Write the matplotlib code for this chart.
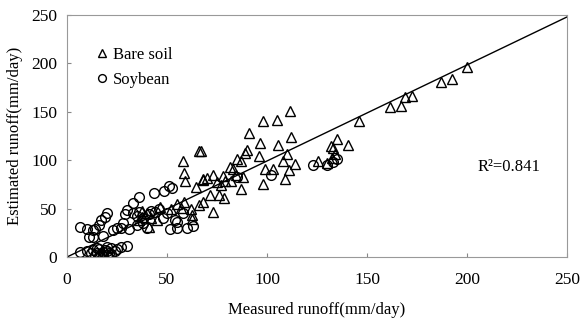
import matplotlib
matplotlib.use("Agg")
import matplotlib.pyplot as plt

plt.rcParams['font.family'] = ['Liberation Serif', 'DejaVu Serif']

# Bare soil (measured, estimated)
bare_x = [161.5, 166.8, 169, 172.7, 186.8, 192.7, 199.8, 146,
          111.5, 104.8, 97.8, 90.8, 96.5, 105.7, 111.8, 90, 89, 95.8, 110, 108, 114,
          99, 103, 111, 109, 98, 87, 87, 85, 81.5, 83, 88, 84.5, 67, 125.7, 132, 135,
          140.5, 133, 134, 132.7, 130,
          71.5, 76, 78.5, 68, 66, 73, 77, 79, 68, 73, 58, 66, 58.5, 59, 64.5, 58.5, 55,
          57, 62.5, 62.5, 45, 41, 37.5, 37.5, 46.5, 68, 70, 78, 75, 82, 62, 52, 40, 42, 36]
bare_y = [155, 156, 165.6, 166.7, 181, 184, 196, 141,
          151, 142, 141, 128, 118, 116, 124, 110.5, 107, 104, 106, 99.5, 96,
          90.5, 90.5, 90, 81, 75, 70, 99, 101, 92.6, 90.5, 83, 85, 110, 99.5, 115, 122,
          116, 113, 106, 102, 97,
          64, 64, 61, 57, 54, 47, 74, 79, 81, 85, 99, 109, 86.5, 79, 72.6, 57, 55,
          51, 43, 39, 38, 31, 48, 41, 52, 80, 82, 84, 77, 79, 50, 50, 45, 40, 38]

# Soybean (measured, estimated)
soy_x = [123, 130, 135, 133, 102, 85, 43.5, 48.5, 52.5, 51, 36, 33, 30, 29, 20, 19, 17,
         16, 14, 11, 6.5, 10, 13, 13, 18, 23, 27, 31, 35, 38, 40, 38, 41, 44, 46, 42,
         51.5, 55, 55, 60, 63, 6.5, 10, 13, 15, 17, 18, 20, 19, 21, 16, 22, 25, 27, 30,
         14, 18, 20, 15, 12, 22, 16, 24, 20, 33, 35, 25, 28, 36, 48, 50, 54, 58]
soy_y = [95, 95, 101, 98, 85, 83, 66, 68.5, 71, 73, 62, 56, 49, 44, 45.5, 41.6, 38,
         33, 29, 21, 31, 29, 28, 21, 22, 28, 30, 29, 33, 35, 30, 40, 44, 46, 50, 48,
         28.5, 30, 36, 30, 32, 5, 6, 7, 4, 3, 5, 2, 7, 4, 8, 9, 8, 10, 11,
         2, 1, 6, 9, 4, 3, 1, 6, 10, 45, 42, 30, 35, 47, 40, 45, 38, 45]

fit_x = [0, 250]
fit_y = [0, 248]

fig = plt.figure(figsize=(5.81, 3.23), dpi=100)
ax = fig.add_axes([0.1153, 0.2043, 0.8607, 0.7493])

ax.plot(bare_x, bare_y, linestyle='none', marker='^', markersize=6.5,
        markerfacecolor='none', markeredgecolor='black', markeredgewidth=1.0,
        label='Bare soil')
ax.plot(soy_x, soy_y, linestyle='none', marker='o', markersize=7,
        markerfacecolor='none', markeredgecolor='black', markeredgewidth=1.0,
        label='Soybean')
ax.plot(fit_x, fit_y, color='black', linewidth=1.0)

ax.set_xlim(0, 250)
ax.set_ylim(0, 250)
ax.set_xticks([0, 50, 100, 150, 200, 250])
ax.set_yticks([0, 50, 100, 150, 200, 250])
ax.tick_params(direction='in', length=3, labelsize=12.5, color='#888888')
ax.tick_params(axis='x', pad=11)
ax.tick_params(axis='y', pad=7)
for s in ax.spines.values():
    s.set_color('#999999')
    s.set_linewidth(0.8)

ax.set_xlabel('Measured runoff(mm/day)', fontsize=12, labelpad=10)
ax.set_ylabel('Estimated runoff(mm/day)', fontsize=12, labelpad=6)

ax.text(205, 93, 'R²=0.841', fontsize=12, ha='left', va='center')

ax.legend(loc='upper left', bbox_to_anchor=(0.036, 0.895), frameon=False,
          fontsize=12, handletextpad=0.1, borderaxespad=0, labelspacing=0.55,
          handlelength=1.2, markerscale=0.8)

fig.savefig('out.png', dpi=100)
